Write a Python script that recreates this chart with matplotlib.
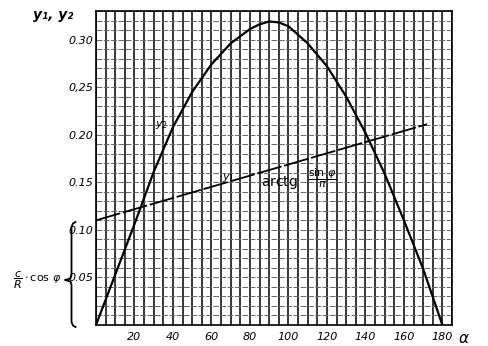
import numpy as np
import matplotlib
matplotlib.use("Agg")
import matplotlib.pyplot as plt
from matplotlib.lines import Line2D

# values
alpha = [0, 10, 20, 30, 40, 50, 60, 70, 80, 85, 90, 95, 100, 110, 120, 130, 140, 150, 160, 170, 180]
y2 = [0.0, 0.053, 0.106, 0.161, 0.208, 0.245, 0.274, 0.296, 0.311, 0.316, 0.319, 0.318, 0.314,
      0.296, 0.272, 0.240, 0.202, 0.159, 0.110, 0.059, 0.0]

alpha_y1 = [0, 172]
y1 = [0.110, 0.211]

xticks = [20, 40, 60, 80, 100, 120, 140, 160, 180]
yticks = [0.05, 0.10, 0.15, 0.20, 0.25, 0.30]
ytick_labels = ["0.05", "0.10", "0.15", "0.20", "0,25", "0.30"]

W, H = 488, 346

fig = plt.figure(figsize=(W / 100, H / 100), dpi=100)
ax = fig.add_axes([96 / W, 21 / H, 356 / W, 314 / H])
ax.set_xlim(0, 185)
ax.set_ylim(0, 0.33)

# graph paper grid
ax.set_xticks(np.arange(0, 186, 5), minor=True)
ax.set_yticks(np.arange(0, 0.331, 0.01), minor=True)
ax.xaxis.remove_overlapping_locs = False
ax.yaxis.remove_overlapping_locs = False
ax.grid(which="minor", axis="x", color="black", lw=1.1)
ax.grid(which="minor", axis="y", color="#666666", lw=0.7, ls=(0, (6, 1.5)))

ax.plot(alpha, y2, color="black", lw=1.6, zorder=3)
ax.plot(alpha_y1, y1, color="black", lw=1.3, ls=(0, (14, 1.5)), zorder=3)

ax.set_xticks(xticks)
ax.set_xticklabels([str(t) for t in xticks], fontstyle="italic", fontsize=8)
ax.set_yticks(yticks)
ax.set_yticklabels(ytick_labels, fontstyle="italic", fontsize=8)
ax.tick_params(which="both", length=0)
ax.tick_params(axis="x", pad=5)
ax.tick_params(axis="y", pad=2)
for s in ax.spines.values():
    s.set_linewidth(1.2)

ax.text(188, -0.014, r"$\alpha$", fontsize=11, va="center", ha="left", clip_on=False)
fig.text(33 / W, 1 - 15 / H, "y\u2081, y\u2082", fontsize=10, va="center", ha="left",
         fontweight="bold", fontstyle="italic")

ax.text(34, 0.21, r"$y_2$", fontsize=8, ha="center", va="center")
ax.text(69, 0.155, r"$y_1$", fontsize=8, ha="center", va="center")
ax.text(86, 0.150, r"$\mathrm{arctg}$", fontsize=10, ha="left", va="center")
ax.text(110, 0.154, r"$\dfrac{\sin\,\varphi}{\pi}$", fontsize=8, ha="left", va="center")

# curly brace left of the axis, drawn in figure pixels
bx, tip = 71.5, 65
top, bot, mid = 222, 327, 280
brace_x = [bx + 4, bx + 1.5, bx, bx, bx - 1, tip, bx - 1, bx, bx, bx + 1.5, bx + 4]
brace_y = [top, top + 1.5, top + 5, mid - 5, mid - 1.5, mid, mid + 1.5, mid + 5, bot - 5, bot - 1.5, bot]
fig.add_artist(Line2D([x / W for x in brace_x], [1 - y / H for y in brace_y],
                      lw=1.3, color="black", transform=fig.transFigure))
fig.text(37 / W, 1 - 280 / H, r"$\dfrac{c}{R}\cdot\cos\,\varphi$", fontsize=8,
         ha="center", va="center")

fig.savefig("out.png", dpi=100)
